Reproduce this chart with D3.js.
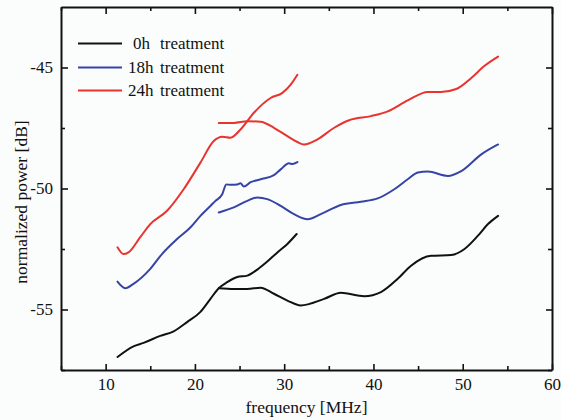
<!DOCTYPE html>
<html><head><meta charset="utf-8">
<script src="https://cdn.jsdelivr.net/npm/d3@7"></script>
<style>
html,body{margin:0;padding:0;background:#fbfcfc;}
svg{display:block;}
text{font-family:"Liberation Serif","Times New Roman",serif;fill:#111;}
</style></head>
<body>
<script>
// ---- data ----
const xTicks = [10, 20, 30, 40, 50, 60];
const yTicks = [-55, -50, -45];
const seriesNames = ["0h", "18h", "24h"];
const seriesColors = ["#111111", "#3644a6", "#e8332f"];

// 0h treatment: low band (11–31.5 MHz) and high band (22.5–54 MHz)
const h0LowFreq  = [11.33,13.12,14.25,16.12,17.62,19.12,20.62,21.74,22.67,23.62,24.74,25.87,26.99,28.11,29.24,30.36,31.4];
const h0LowPow   = [-56.96,-56.52,-56.38,-56.09,-55.90,-55.52,-55.10,-54.56,-54.12,-53.87,-53.66,-53.60,-53.35,-53.02,-52.64,-52.29,-51.88];
const h0HighFreq = [22.67,24.36,25.87,27.36,28.85,30.36,31.85,34.47,36.35,38.97,40.84,42.72,44.21,46.46,48.71,50.20,51.71,52.83,53.96];
const h0HighPow  = [-54.12,-54.15,-54.15,-54.10,-54.35,-54.63,-54.83,-54.56,-54.31,-54.45,-54.28,-53.73,-53.19,-52.78,-52.75,-52.50,-51.95,-51.47,-51.13];

// 18h treatment
const h18LowFreq  = [11.33,12.19,13.12,15.0,16.31,18.0,19.49,20.62,21.74,22.30,23.06,23.51,23.99,24.74,25.11,25.48,26.24,27.36,28.85,29.61,30.54,30.92,31.48];
const h18LowPow   = [-53.85,-54.12,-53.94,-53.32,-52.71,-52.09,-51.61,-51.13,-50.72,-50.51,-50.24,-49.83,-49.85,-49.83,-49.78,-49.92,-49.74,-49.62,-49.45,-49.21,-48.96,-48.99,-48.91];
const h18HighFreq = [22.67,24.36,25.87,26.99,28.11,29.61,31.10,32.61,34.10,36.35,38.60,40.47,42.34,43.84,44.97,46.09,48.34,49.83,52.08,53.96];
const h18HighPow  = [-50.99,-50.78,-50.51,-50.37,-50.44,-50.72,-51.06,-51.27,-51.06,-50.68,-50.55,-50.41,-50.03,-49.62,-49.34,-49.30,-49.48,-49.28,-48.59,-48.18];

// 24h treatment
const h24LowFreq  = [11.33,12.0,12.56,13.88,15.0,16.88,18.74,20.62,22.11,23.06,23.99,25.11,26.61,28.48,29.80,30.73,31.48];
const h24LowPow   = [-52.43,-52.71,-52.64,-52.01,-51.47,-50.92,-50.03,-48.93,-48.04,-47.86,-47.90,-47.56,-46.87,-46.26,-46.05,-45.71,-45.30];
const h24HighFreq = [22.67,24.36,25.87,27.36,28.85,30.36,31.48,32.22,33.73,35.60,37.28,39.72,41.60,43.84,46.09,47.58,49.27,50.96,52.45,53.96];
const h24HighPow  = [-47.29,-47.29,-47.22,-47.24,-47.49,-47.84,-48.08,-48.18,-47.97,-47.49,-47.18,-47.01,-46.81,-46.36,-46.01,-46.01,-45.89,-45.43,-44.93,-44.55];

const segments = [
  {s:0, f:h0LowFreq,  p:h0LowPow},  {s:0, f:h0HighFreq,  p:h0HighPow},
  {s:1, f:h18LowFreq, p:h18LowPow}, {s:1, f:h18HighFreq, p:h18HighPow},
  {s:2, f:h24LowFreq, p:h24LowPow}, {s:2, f:h24HighFreq, p:h24HighPow}
];

// ---- layout ----
const W = 561, H = 420;
const L = 61, R = 552, T = 7, B = 370;
const x = d3.scaleLinear().domain([5, 60]).range([L, R]);
const y = d3.scaleLinear().domain([-57.5, -42.5]).range([B, T]);

const svg = d3.select("body").append("svg").attr("width", W).attr("height", H);
svg.append("rect").attr("width", W).attr("height", H).attr("fill", "#fbfcfc");

const fmt = d => String(d);
const xMinor = d3.range(5, 60, 5).filter(v => v % 10 !== 0);
const yMinor = [-57.5, -52.5, -47.5];

function styleAxis(g){
  g.selectAll("path.domain").attr("stroke", "#111").attr("stroke-width", 2);
  g.selectAll("line").attr("stroke", "#111").attr("stroke-width", 1.6);
  g.selectAll("text").attr("font-size", 17).attr("font-family", '"Liberation Serif",serif').attr("fill", "#111");
}

// bottom
svg.append("g").attr("transform", `translate(0,${B})`)
  .call(d3.axisBottom(x).tickValues(xTicks).tickFormat(fmt).tickSizeInner(-6).tickSizeOuter(0).tickPadding(8))
  .call(styleAxis);
svg.append("g").attr("transform", `translate(0,${B})`)
  .call(d3.axisBottom(x).tickValues(xMinor).tickFormat("").tickSizeInner(-4).tickSizeOuter(0))
  .call(styleAxis).select("path.domain").remove();
// top
svg.append("g").attr("transform", `translate(0,${T})`)
  .call(d3.axisTop(x).tickValues(xTicks).tickFormat("").tickSizeInner(-7).tickSizeOuter(0))
  .call(styleAxis);
svg.append("g").attr("transform", `translate(0,${T})`)
  .call(d3.axisTop(x).tickValues(xMinor).tickFormat("").tickSizeInner(-4).tickSizeOuter(0))
  .call(styleAxis).select("path.domain").remove();
// left
svg.append("g").attr("transform", `translate(${L},0)`)
  .call(d3.axisLeft(y).tickValues(yTicks).tickFormat(fmt).tickSizeInner(-7).tickSizeOuter(0).tickPadding(8))
  .call(styleAxis);
svg.append("g").attr("transform", `translate(${L},0)`)
  .call(d3.axisLeft(y).tickValues(yMinor).tickFormat("").tickSizeInner(-4).tickSizeOuter(0))
  .call(styleAxis).select("path.domain").remove();
// right
svg.append("g").attr("transform", `translate(${R},0)`)
  .call(d3.axisRight(y).tickValues(yTicks).tickFormat("").tickSizeInner(-6).tickSizeOuter(0))
  .call(styleAxis);
svg.append("g").attr("transform", `translate(${R},0)`)
  .call(d3.axisRight(y).tickValues(yMinor).tickFormat("").tickSizeInner(-4).tickSizeOuter(0))
  .call(styleAxis).select("path.domain").remove();

// axis titles
svg.append("text").attr("x", (L + R) / 2).attr("y", 413).attr("text-anchor", "middle")
  .attr("font-size", 17.5).text("frequency [MHz]");
svg.append("text").attr("transform", `translate(27,202) rotate(-90)`).attr("text-anchor", "middle")
  .attr("font-size", 17.5).text("normalized power [dB]");

// lines
const line = d3.line().x(d => x(d[0])).y(d => y(d[1])).curve(d3.curveMonotoneX);
const plot = svg.append("g");
segments.forEach(seg => {
  const pts = seg.f.map((f, i) => [f, seg.p[i]]);
  plot.append("path").attr("d", line(pts)).attr("fill", "none")
    .attr("stroke", seriesColors[seg.s]).attr("stroke-width", 2)
    .attr("stroke-linejoin", "round").attr("stroke-linecap", "round");
});

// legend
const legY = [43.5, 67.5, 90.5];
const legLabelX = [133, 128, 128];
seriesNames.forEach((n, i) => {
  svg.append("line").attr("x1", 78).attr("x2", 122).attr("y1", legY[i]).attr("y2", legY[i])
    .attr("stroke", seriesColors[i]).attr("stroke-width", 2);
  const t = svg.append("text").attr("y", legY[i] + 5.5).attr("font-size", 17);
  t.append("tspan").attr("x", legLabelX[i]).text(n);
  t.append("tspan").attr("x", 160).text("treatment");
});
</script>
</body></html>
